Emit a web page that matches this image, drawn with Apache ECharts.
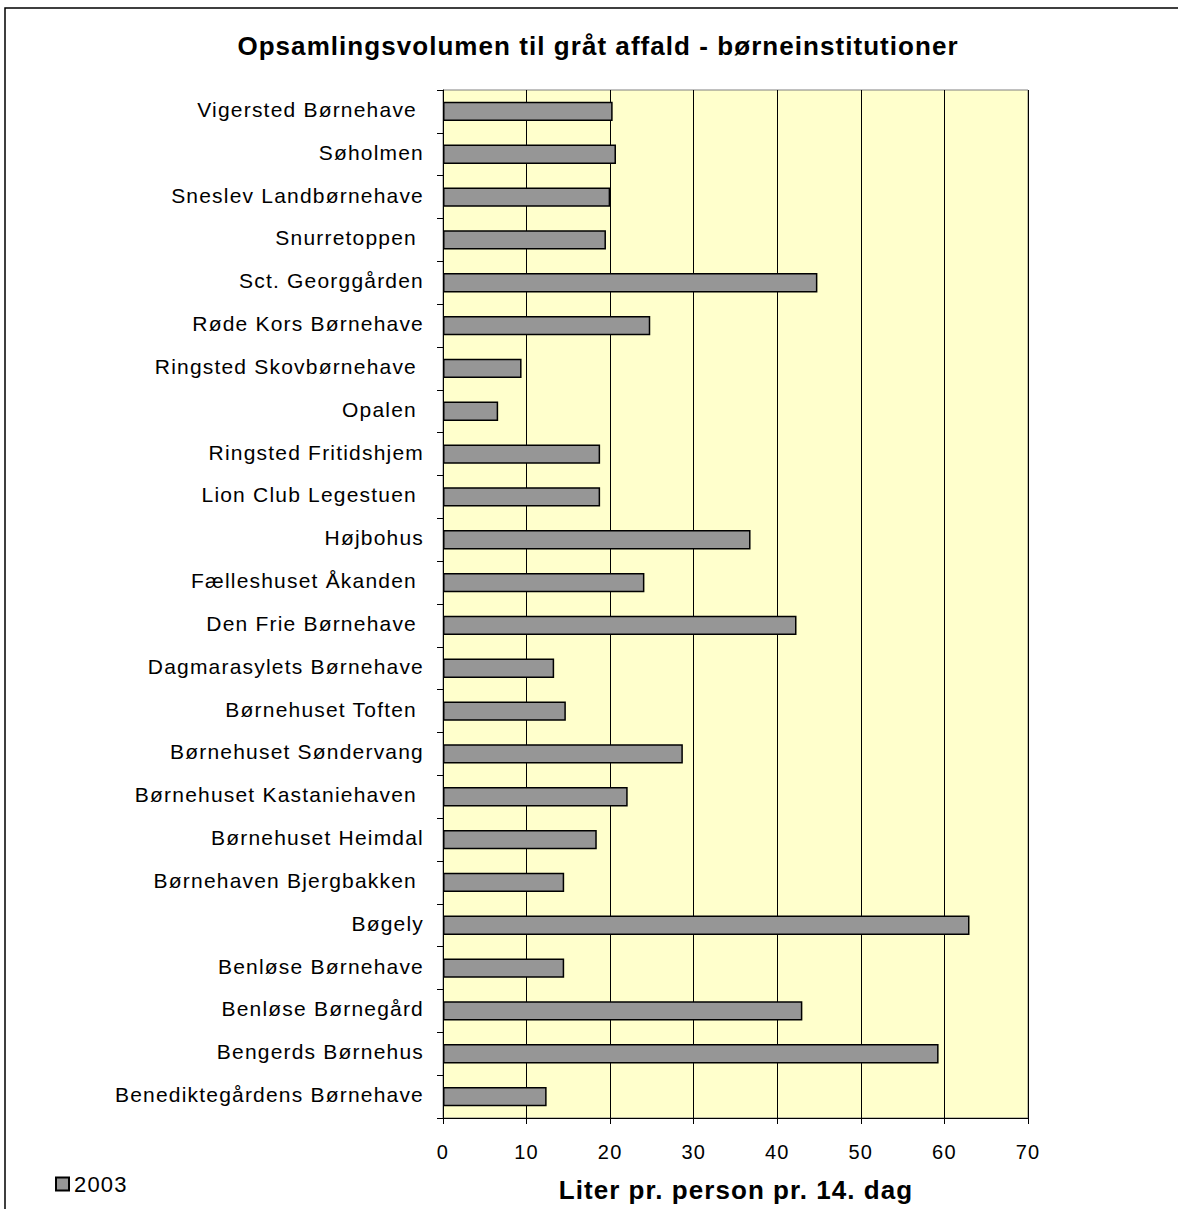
<!DOCTYPE html>
<html>
<head>
<meta charset="utf-8">
<script src="https://cdn.jsdelivr.net/npm/echarts@6/dist/echarts.min.js"></script>
<style>
html,body{margin:0;padding:0;background:#fff;}
#chart{width:1178px;height:1209px;}
#chart svg text{letter-spacing:1.2px;white-space:pre;}
#chart svg text[style*="bold"]{letter-spacing:1.05px;}
</style>
</head>
<body>
<div id="chart"></div>
<script>
// Categories, top to bottom as drawn
var categories = [
  'Vigersted Børnehave ',
  'Søholmen',
  'Sneslev Landbørnehave',
  'Snurretoppen ',
  'Sct. Georggården',
  'Røde Kors Børnehave',
  'Ringsted Skovbørnehave ',
  'Opalen ',
  'Ringsted Fritidshjem',
  'Lion Club Legestuen ',
  'Højbohus',
  'Fælleshuset Åkanden ',
  'Den Frie Børnehave ',
  'Dagmarasylets Børnehave',
  'Børnehuset Toften ',
  'Børnehuset Søndervang',
  'Børnehuset Kastaniehaven ',
  'Børnehuset Heimdal',
  'Børnehaven Bjergbakken ',
  'Bøgely',
  'Benløse Børnehave',
  'Benløse Børnegård',
  'Bengerds Børnehus',
  'Benediktegårdens Børnehave'
];
var values2003 = [
  20.3, 20.7, 20.0, 19.5, 44.8, 24.8, 9.4, 6.6,
  18.8, 18.8, 36.8, 24.1, 42.3, 13.3, 14.7, 28.7,
  22.1, 18.4, 14.5, 63.0, 14.5, 43.0, 59.3, 12.4
];
var seriesName = '2003';
var xTicks = [0, 10, 20, 30, 40, 50, 60, 70];
var titleText = 'Opsamlingsvolumen til gråt affald - børneinstitutioner';
var xAxisTitle = 'Liter pr. person pr. 14. dag';

var FONT = '"Liberation Sans", Arial, sans-serif';
var chart = echarts.init(document.getElementById('chart'), null, {renderer: 'svg'});
chart.setOption({
  backgroundColor: '#ffffff',
  animation: false,
  textStyle: {fontFamily: FONT},
  title: {
    text: titleText,
    left: 593,
    textAlign: 'center',
    top: 28,
    textStyle: {fontFamily: FONT, fontSize: 26, fontWeight: 'bold', color: '#000'}
  },
  graphic: [
    {type: 'rect', shape: {x: 5, y: 8, width: 1200, height: 1230}, style: {fill: 'none', stroke: '#000', lineWidth: 1.5}, z: 100},
    {type: 'text', x: 736, y: 1190, style: {text: xAxisTitle, font: 'bold 26px "Liberation Sans", Arial, sans-serif', fill: '#000', textAlign: 'center', textVerticalAlign: 'middle'}}
  ],
  legend: {
    left: 50,
    top: 1168,
    icon: 'rect',
    itemWidth: 13,
    itemHeight: 13,
    data: [seriesName],
    textStyle: {fontFamily: FONT, fontSize: 22, color: '#000'}
  },
  grid: {
    left: 443, right: 150, top: 90, bottom: 91,
    show: true,
    backgroundColor: '#FFFFCC',
    borderColor: '#808080',
    borderWidth: 1,
    containLabel: false
  },
  xAxis: {
    type: 'value',
    min: 0, max: 70, interval: 10,
    axisLine: {show: true, lineStyle: {color: '#000', width: 1}},
    axisTick: {show: true, inside: false, length: 6, lineStyle: {color: '#000'}},
    axisLabel: {
      fontFamily: FONT, fontSize: 20, color: '#000', margin: 24,
      formatter: function (v) { return xTicks.indexOf(v) >= 0 ? String(v) : ''; }
    },
    splitLine: {show: true, lineStyle: {color: '#000', width: 1}}
  },
  yAxis: {
    type: 'category',
    data: categories,
    inverse: true,
    axisLine: {show: true, lineStyle: {color: '#000', width: 1}},
    axisTick: {show: true, inside: false, length: 6, lineStyle: {color: '#000'}},
    axisLabel: {fontFamily: FONT, fontSize: 21, color: '#000', margin: 19, interval: 0, verticalAlign: 'bottom', lineHeight: 4},
    splitLine: {show: false}
  },
  series: [{
    name: seriesName,
    type: 'bar',
    data: values2003,
    barWidth: '45%',
    itemStyle: {color: '#969696', borderColor: '#000', borderWidth: 1.5}
  }]
});
</script>
</body>
</html>
